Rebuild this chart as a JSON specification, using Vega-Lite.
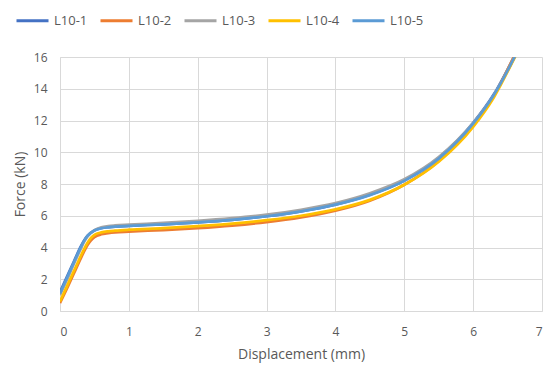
{
  "$schema": "https://vega.github.io/schema/vega-lite/v6.json",
  "width": 482,
  "height": 254,
  "autosize": {"type": "none"},
  "padding": {"left": 60, "top": 57, "right": 8, "bottom": 59},
  "background": "white",
  "config": {
    "view": {"stroke": null},
    "font": "Open Sans",
    "axis": {"labelColor": "#595959", "titleColor": "#595959", "labelFont": "Open Sans", "titleFont": "Open Sans", "labelFontSize": 12, "titleFontSize": 14, "titleFontWeight": "normal", "gridColor": "#D9D9D9", "domainColor": "#D9D9D9", "ticks": false}
  },
  "data": {"values": [
    {"s":"L10-1","x":0,"y":1.2},{"s":"L10-1","x":0.1,"y":2.15},{"s":"L10-1","x":0.2,"y":3.1},{"s":"L10-1","x":0.3,"y":4.05},{"s":"L10-1","x":0.35,"y":4.45},{"s":"L10-1","x":0.4,"y":4.75},{"s":"L10-1","x":0.5,"y":5.08},{"s":"L10-1","x":0.6,"y":5.22},{"s":"L10-1","x":0.7,"y":5.28},{"s":"L10-1","x":0.8,"y":5.31},{"s":"L10-1","x":1,"y":5.36},{"s":"L10-1","x":1.5,"y":5.46},{"s":"L10-1","x":2,"y":5.58},{"s":"L10-1","x":2.5,"y":5.74},{"s":"L10-1","x":3,"y":5.97},{"s":"L10-1","x":3.5,"y":6.28},{"s":"L10-1","x":4,"y":6.7},{"s":"L10-1","x":4.5,"y":7.32},{"s":"L10-1","x":5,"y":8.22},{"s":"L10-1","x":5.5,"y":9.65},{"s":"L10-1","x":6,"y":11.85},{"s":"L10-1","x":6.3,"y":13.65},{"s":"L10-1","x":6.6,"y":16.05},{"s":"L10-1","x":6.7,"y":16.9},
    {"s":"L10-2","x":0,"y":0.5},{"s":"L10-2","x":0.1,"y":1.4},{"s":"L10-2","x":0.2,"y":2.35},{"s":"L10-2","x":0.3,"y":3.3},{"s":"L10-2","x":0.35,"y":3.75},{"s":"L10-2","x":0.4,"y":4.15},{"s":"L10-2","x":0.45,"y":4.45},{"s":"L10-2","x":0.5,"y":4.65},{"s":"L10-2","x":0.6,"y":4.83},{"s":"L10-2","x":0.7,"y":4.9},{"s":"L10-2","x":0.8,"y":4.95},{"s":"L10-2","x":1,"y":5.0},{"s":"L10-2","x":1.5,"y":5.1},{"s":"L10-2","x":2,"y":5.22},{"s":"L10-2","x":2.5,"y":5.38},{"s":"L10-2","x":3,"y":5.6},{"s":"L10-2","x":3.5,"y":5.9},{"s":"L10-2","x":4,"y":6.32},{"s":"L10-2","x":4.5,"y":6.95},{"s":"L10-2","x":5,"y":7.95},{"s":"L10-2","x":5.5,"y":9.45},{"s":"L10-2","x":6,"y":11.7},{"s":"L10-2","x":6.3,"y":13.55},{"s":"L10-2","x":6.6,"y":16.1},{"s":"L10-2","x":6.7,"y":17.0},
    {"s":"L10-3","x":0,"y":1.0},{"s":"L10-3","x":0.1,"y":1.95},{"s":"L10-3","x":0.2,"y":2.95},{"s":"L10-3","x":0.3,"y":3.9},{"s":"L10-3","x":0.35,"y":4.35},{"s":"L10-3","x":0.4,"y":4.7},{"s":"L10-3","x":0.5,"y":5.1},{"s":"L10-3","x":0.6,"y":5.28},{"s":"L10-3","x":0.7,"y":5.35},{"s":"L10-3","x":0.8,"y":5.39},{"s":"L10-3","x":1,"y":5.44},{"s":"L10-3","x":1.5,"y":5.55},{"s":"L10-3","x":2,"y":5.68},{"s":"L10-3","x":2.5,"y":5.85},{"s":"L10-3","x":3,"y":6.07},{"s":"L10-3","x":3.5,"y":6.38},{"s":"L10-3","x":4,"y":6.8},{"s":"L10-3","x":4.5,"y":7.42},{"s":"L10-3","x":5,"y":8.3},{"s":"L10-3","x":5.5,"y":9.7},{"s":"L10-3","x":6,"y":11.85},{"s":"L10-3","x":6.3,"y":13.6},{"s":"L10-3","x":6.6,"y":15.95},{"s":"L10-3","x":6.7,"y":16.8},
    {"s":"L10-4","x":0,"y":0.6},{"s":"L10-4","x":0.1,"y":1.55},{"s":"L10-4","x":0.2,"y":2.5},{"s":"L10-4","x":0.3,"y":3.45},{"s":"L10-4","x":0.35,"y":3.9},{"s":"L10-4","x":0.4,"y":4.3},{"s":"L10-4","x":0.45,"y":4.6},{"s":"L10-4","x":0.5,"y":4.8},{"s":"L10-4","x":0.6,"y":4.95},{"s":"L10-4","x":0.7,"y":5.02},{"s":"L10-4","x":0.8,"y":5.06},{"s":"L10-4","x":1,"y":5.12},{"s":"L10-4","x":1.5,"y":5.22},{"s":"L10-4","x":2,"y":5.35},{"s":"L10-4","x":2.5,"y":5.5},{"s":"L10-4","x":3,"y":5.72},{"s":"L10-4","x":3.5,"y":6.0},{"s":"L10-4","x":4,"y":6.4},{"s":"L10-4","x":4.5,"y":7.0},{"s":"L10-4","x":5,"y":7.95},{"s":"L10-4","x":5.5,"y":9.4},{"s":"L10-4","x":6,"y":11.6},{"s":"L10-4","x":6.3,"y":13.45},{"s":"L10-4","x":6.6,"y":15.95},{"s":"L10-4","x":6.7,"y":16.85},
    {"s":"L10-5","x":0,"y":1.1},{"s":"L10-5","x":0.1,"y":2.08},{"s":"L10-5","x":0.2,"y":3.05},{"s":"L10-5","x":0.3,"y":4.0},{"s":"L10-5","x":0.35,"y":4.42},{"s":"L10-5","x":0.4,"y":4.73},{"s":"L10-5","x":0.5,"y":5.07},{"s":"L10-5","x":0.6,"y":5.21},{"s":"L10-5","x":0.7,"y":5.27},{"s":"L10-5","x":0.8,"y":5.31},{"s":"L10-5","x":1,"y":5.36},{"s":"L10-5","x":1.5,"y":5.46},{"s":"L10-5","x":2,"y":5.58},{"s":"L10-5","x":2.5,"y":5.74},{"s":"L10-5","x":3,"y":5.97},{"s":"L10-5","x":3.5,"y":6.28},{"s":"L10-5","x":4,"y":6.7},{"s":"L10-5","x":4.5,"y":7.3},{"s":"L10-5","x":5,"y":8.2},{"s":"L10-5","x":5.5,"y":9.6},{"s":"L10-5","x":6,"y":11.8},{"s":"L10-5","x":6.3,"y":13.6},{"s":"L10-5","x":6.6,"y":16.0},{"s":"L10-5","x":6.7,"y":16.9}
  ]},
  "mark": {"type": "line", "strokeWidth": 2.7, "clip": true, "interpolate": "monotone"},
  "encoding": {
    "x": {"field": "x", "type": "quantitative", "title": "Displacement (mm)", "scale": {"domain": [0, 7], "nice": false}, "axis": {"values": [0,1,2,3,4,5,6,7], "labelPadding": 15, "titlePadding": 10, "grid": true}},
    "y": {"field": "y", "type": "quantitative", "title": "Force (kN)", "scale": {"domain": [0, 16], "nice": false}, "axis": {"values": [0,2,4,6,8,10,12,14,16], "labelPadding": 13, "titlePadding": 6, "grid": true}},
    "color": {"field": "s", "type": "nominal", "title": null,
      "scale": {"domain": ["L10-1","L10-2","L10-3","L10-4","L10-5"], "range": ["#4472C4","#ED7D31","#A5A5A5","#FFC000","#5B9BD5"]},
      "legend": {"orient": "none", "direction": "horizontal", "legendX": -45, "legendY": -54, "symbolType": "stroke", "symbolSize": 1024, "symbolStrokeWidth": 3, "labelColor": "#595959", "labelFontSize": 13, "labelFont": "Open Sans", "labelOffset": 4, "columnPadding": 6}
    },
    "order": {"field": "s"}
  }
}
